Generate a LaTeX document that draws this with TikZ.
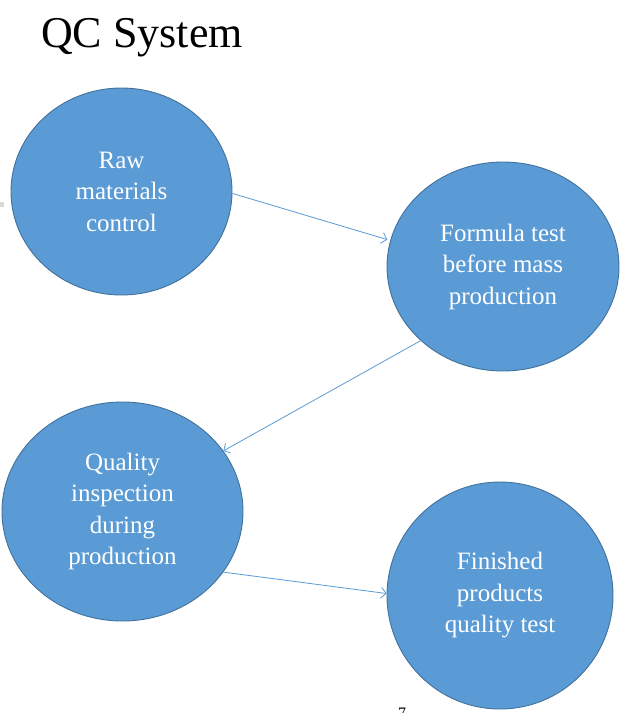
\documentclass[tikz,border=0pt]{standalone}
\usepackage{fontspec}
\setmainfont{Liberation Serif}
\usetikzlibrary{shapes.geometric,arrows.meta}
\definecolor{blobfill}{HTML}{5B9BD5}
\definecolor{blobline}{HTML}{41719C}
\definecolor{arrowcol}{HTML}{5B9BD5}
\tikzset{
  blob/.style={ellipse, draw=blobline, fill=blobfill, line width=0.9pt, inner sep=0pt,
    text=white, align=center, font=\fontsize{25}{31.5}\selectfont},
  flow/.style={draw=arrowcol, line width=0.8pt, -{Straight Barb[length=5pt,width=11pt,line width=0.8pt]}}
}
\begin{document}
\begin{tikzpicture}[x=1pt,y=-1pt]
\useasboundingbox[fill=white] (0,0) rectangle (633,713);
\fill[gray!30] (0,202) rectangle (4,207);
\node[anchor=base west, inner sep=0pt, font=\fontsize{44}{48}\selectfont] (title) at (41,47) {QC System};
\node[blob, minimum width=221pt, minimum height=207pt] (raw) at (121.5,191.5) {Raw\\materials\\control};
\node[blob, minimum width=232pt, minimum height=209pt] (formula) at (503,266.5) {Formula test\\before mass\\production};
\node[blob, minimum width=241pt, minimum height=219pt] (quality) at (122.5,511.5) {Quality\\inspection\\during\\production};
\node[blob, minimum width=226pt, minimum height=227pt] (finished) at (500,595.5) {Finished\\products\\quality test};
\node[anchor=north, inner sep=0pt, font=\fontsize{16}{18}\selectfont] (page) at (402,708) {7};
\draw[flow, shorten >=3pt] (raw.-1) -- (formula.167);
\draw[flow] (formula.222.7) -- (quality.31.6);
\draw[flow] (quality.-31.7) -- (finished.179.2);
\end{tikzpicture}
\end{document}
